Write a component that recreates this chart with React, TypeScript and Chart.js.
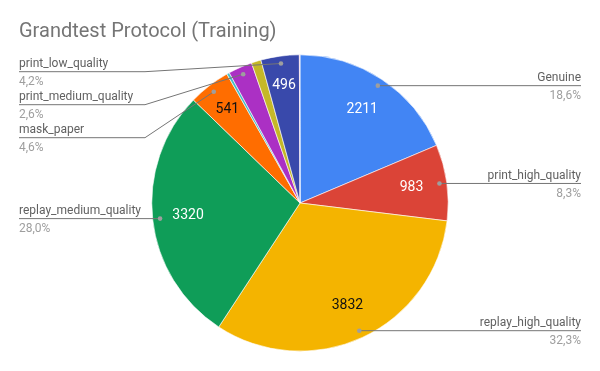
import React, { useEffect, useRef } from "react";
import { Chart, registerables } from "chart.js";

Chart.register(...registerables);

const categories = [
  "Genuine",
  "print_high_quality",
  "replay_high_quality",
  "replay_medium_quality",
  "mask_paper",
  "mask_rigid",
  "print_medium_quality",
  "replay_low_quality",
  "print_low_quality",
  "mask_silicone",
];
const counts = [2211, 983, 3832, 3320, 541, 35, 310, 125, 496, 8];
const sliceColors = [
  "#4285F4",
  "#DB4437",
  "#F4B400",
  "#0F9D58",
  "#FF6D00",
  "#46BDC6",
  "#AB30C4",
  "#C5B828",
  "#3949AB",
  "#F48FB1",
];
const valueTextColors = [
  "#ffffff",
  "#ffffff",
  "#111111",
  "#ffffff",
  "#111111",
  "#ffffff",
  "#ffffff",
  "#111111",
  "#ffffff",
  "#111111",
];
const chartTitle = "Grandtest Protocol (Training)";

const FONT = "Roboto, 'Noto Sans', sans-serif";

const labelPlugin = {
  id: "sheetLabels",
  afterDraw(chart: any) {
    const ctx = chart.ctx as CanvasRenderingContext2D;
    ctx.save();
    // Title
    ctx.font = `20px ${FONT}`;
    ctx.fillStyle = "#757575";
    ctx.textAlign = "left";
    ctx.textBaseline = "alphabetic";
    ctx.fillText(chartTitle, 19, 37);

    const meta = chart.getDatasetMeta(0);
    const data = chart.data.datasets[0].data as number[];
    const total = data.reduce((a, b) => a + b, 0);
    const items: any[] = [];
    meta.data.forEach((arc: any, i: number) => {
      const p = arc.getProps(["x", "y", "startAngle", "endAngle", "outerRadius"], true);
      const mid = (p.startAngle + p.endAngle) / 2;
      const frac = data[i] / total;
      // value inside slice
      if (frac >= 0.03) {
        const r = p.outerRadius * (frac < 0.05 ? 0.8 : 0.76);
        ctx.font = `14px ${FONT}`;
        ctx.fillStyle = valueTextColors[i];
        ctx.textAlign = "center";
        ctx.textBaseline = "middle";
        ctx.fillText(String(data[i]), p.x + Math.cos(mid) * r, p.y + Math.sin(mid) * r);
      }
      if (frac >= 0.02) {
        const rd = p.outerRadius * 0.95;
        items.push({
          i,
          frac,
          dx: p.x + Math.cos(mid) * rd,
          dy: p.y + Math.sin(mid) * rd,
          right: Math.cos(mid) >= 0,
        });
      }
    });

    const drawLabel = (it: any, lineY: number) => {
      ctx.strokeStyle = "#757575";
      ctx.lineWidth = 1;
      ctx.beginPath();
      if (it.right) {
        ctx.moveTo(it.dx, it.dy);
        ctx.lineTo(581, lineY);
      } else {
        const elbow = 145;
        ctx.moveTo(19, lineY);
        if (Math.abs(lineY - it.dy) > 0.5) {
          ctx.lineTo(elbow, lineY);
        }
        ctx.lineTo(it.dx, it.dy);
      }
      ctx.stroke();
      ctx.fillStyle = "#9e9e9e";
      ctx.beginPath();
      ctx.arc(it.dx, it.dy, 2.3, 0, Math.PI * 2);
      ctx.fill();

      const pct = (it.frac * 100).toFixed(1).replace(".", ",") + "%";
      ctx.font = `12px ${FONT}`;
      ctx.textBaseline = "alphabetic";
      ctx.textAlign = it.right ? "right" : "left";
      const tx = it.right ? 581 : 19;
      ctx.fillStyle = "#616161";
      ctx.fillText(categories[it.i], tx, lineY - 4.3);
      ctx.fillStyle = "#9e9e9e";
      ctx.fillText(pct, tx, lineY + 13.7);
    };

    const left = items.filter((it) => !it.right).sort((a, b) => a.dy - b.dy);
    const right = items.filter((it) => it.right).sort((a, b) => a.dy - b.dy);
    let prev = -Infinity;
    left.forEach((it) => {
      const y = Math.max(it.dy, prev + 33, 71.7);
      prev = y;
      drawLabel(it, y);
    });
    prev = -Infinity;
    right.forEach((it) => {
      const y = Math.max(it.dy, prev + 33);
      prev = y;
      drawLabel(it, y);
    });
    ctx.restore();
  },
};

export default function App() {
  const ref = useRef<HTMLCanvasElement | null>(null);
  useEffect(() => {
    document.body.style.margin = "0";
    if (!ref.current) return;
    const chart = new Chart(ref.current, {
      type: "pie",
      data: {
        labels: categories,
        datasets: [
          {
            data: counts,
            backgroundColor: sliceColors,
            borderColor: "#ffffff",
            borderWidth: 0.6,
          },
        ],
      },
      options: {
        responsive: false,
        animation: false,
        devicePixelRatio: 1,
        layout: { padding: { top: 54.5, bottom: 19.5, left: 0, right: 0 } },
        plugins: {
          legend: { display: false },
          tooltip: { enabled: false },
          title: { display: false },
        },
      },
      plugins: [labelPlugin],
    });
    return () => chart.destroy();
  }, []);
  return (
    <div style={{ position: "absolute", left: 0, top: 0, width: 600, height: 371, background: "#fff" }}>
      <canvas ref={ref} width={600} height={371} />
    </div>
  );
}
